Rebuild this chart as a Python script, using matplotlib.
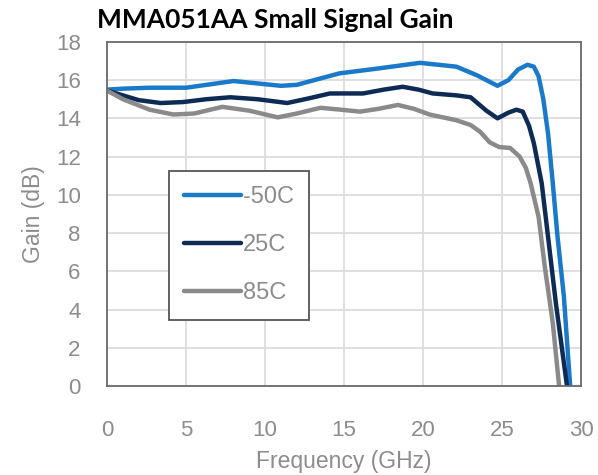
import matplotlib
matplotlib.use("Agg")
import matplotlib.pyplot as plt

# values
freq_m50 = [0, 1, 2.7, 5, 8, 11, 12, 14.7, 17.1, 19.8, 22.1, 23.4, 24.7, 25.4,
            26.0, 26.6, 27.0, 27.3, 27.6, 27.9, 28.2, 28.5, 28.9, 29.3]
gain_m50 = [15.5, 15.55, 15.6, 15.6, 15.95, 15.7, 15.75, 16.35, 16.6, 16.9, 16.7,
            16.25, 15.7, 16.0, 16.55, 16.8, 16.7, 16.2, 15.0, 13.2, 10.6, 7.8, 4.7, 0.0]

freq_25 = [0, 1, 2, 3.4, 4.8, 6.3, 7.8, 9.5, 11.4, 12.8, 14.1, 16.2, 17.5, 18.7,
           19.7, 20.6, 22.1, 23.0, 24.0, 24.7, 25.4, 25.9, 26.3, 26.7, 27.0, 27.5,
           27.9, 28.4, 29.1]
gain_25 = [15.45, 15.2, 14.95, 14.8, 14.85, 15.0, 15.1, 15.0, 14.8, 15.05, 15.3,
           15.3, 15.5, 15.65, 15.5, 15.3, 15.2, 15.1, 14.4, 14.0, 14.3, 14.45, 14.35,
           13.6, 12.7, 10.6, 7.8, 4.3, 0.0]

freq_85 = [0, 1, 2.7, 4.2, 5.5, 7.3, 9, 10.8, 12, 13.5, 14.8, 16, 17.2, 18.4,
           19.4, 20.4, 22.1, 23.0, 23.6, 24.2, 24.8, 25.5, 26.1, 26.5, 26.8, 27.3,
           27.7, 28.2, 28.6]
gain_85 = [15.45, 15.0, 14.45, 14.2, 14.25, 14.6, 14.4, 14.05, 14.25, 14.55, 14.45,
           14.35, 14.5, 14.7, 14.5, 14.2, 13.9, 13.65, 13.3, 12.75, 12.5, 12.45, 12.0,
           11.4, 10.6, 8.85, 6.2, 3.3, 0.0]

labels = ["-50C", "25C", "85C"]
colors = ["#1a7ac9", "#0d2b55", "#8a8a8a"]
x_ticks = [0, 5, 10, 15, 20, 25, 30]
y_ticks = [0, 2, 4, 6, 8, 10, 12, 14, 16, 18]

txt = "#8c8c8c"
plt.rcParams["font.family"] = ["Liberation Sans", "DejaVu Sans"]

fig = plt.figure(figsize=(5.98, 4.75), dpi=100)
ax = fig.add_axes([0.179, 0.187, 0.793, 0.725])

series = [(freq_m50, gain_m50), (freq_25, gain_25), (freq_85, gain_85)]
for (f, g), lab, c in zip(series, labels, colors):
    ax.plot(f, g, color=c, lw=3.2, label=lab, solid_capstyle="round",
            solid_joinstyle="round")

ax.set_xlim(0, 30)
ax.set_ylim(0, 18)
ax.set_xticks(x_ticks)
ax.set_yticks(y_ticks)
ax.grid(True, color="#dcdcdc", lw=1.3)
ax.set_axisbelow(True)
ax.tick_params(length=0, labelsize=16, labelcolor=txt)
ax.tick_params(axis="x", pad=24)
ax.tick_params(axis="y", pad=19)
for s in ax.spines.values():
    s.set_color("#6a6a6a")
    s.set_linewidth(1.3)

ax.set_xlabel("Frequency (GHz)", fontsize=16.5, color=txt, labelpad=7)
ax.set_ylabel("Gain (dB)", fontsize=16.5, color=txt, labelpad=8)

leg = ax.legend(loc="upper left", bbox_to_anchor=(0.13, 0.625), fontsize=17,
                labelcolor=txt, handlelength=2.4, handletextpad=0.1,
                labelspacing=1.1, borderpad=0.65, fancybox=False, framealpha=1,
                borderaxespad=0)
leg.get_frame().set_edgecolor("#555555")
leg.get_frame().set_linewidth(1.3)

fig.text(0.162, 0.957, "MMA051AA Small Signal Gain", fontsize=19,
         fontweight="bold", family=["Lato", "DejaVu Sans"], color="black",
         va="center", ha="left")

fig.savefig("out.png", dpi=100)
